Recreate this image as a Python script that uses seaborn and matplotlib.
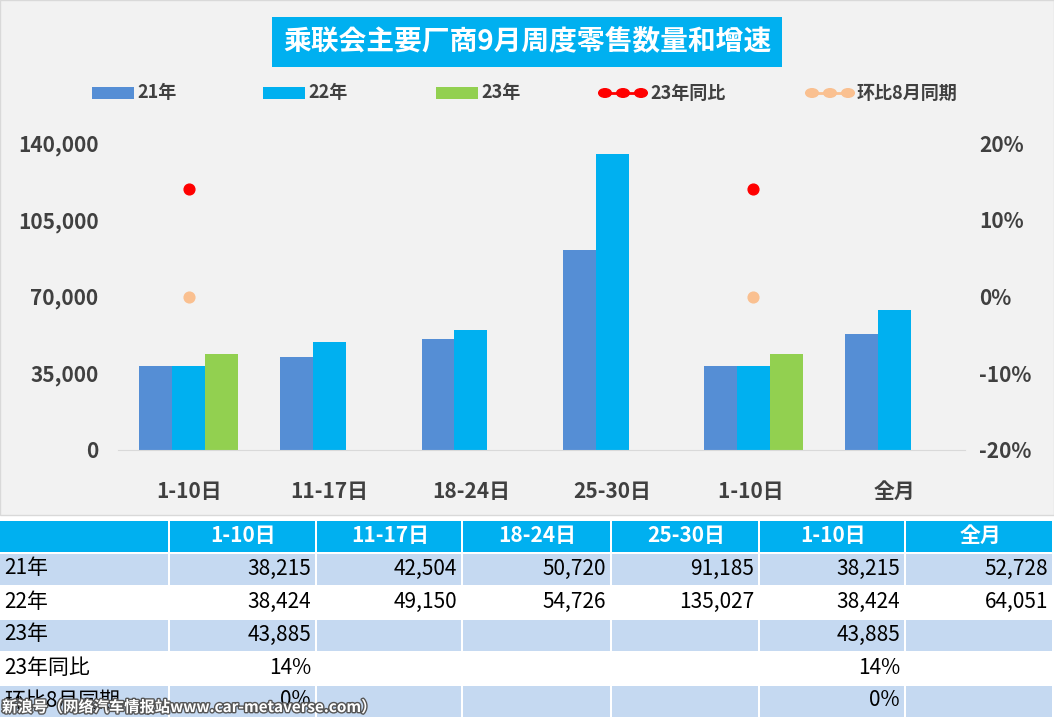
import numpy as np
import pandas as pd
import matplotlib
matplotlib.use("Agg")
import matplotlib.pyplot as plt
import seaborn as sns
from matplotlib.patches import Rectangle
import matplotlib.patheffects as pe

plt.rcParams["font.family"] = ["Noto Sans CJK JP", "Noto Sans CJK SC", "Noto Sans CJK TC", "DejaVu Sans"]

categories = ["1-10日", "11-17日", "18-24日", "25-30日", "1-10日 ", "全月"]
y21 = [38215, 42504, 50720, 91185, 38215, 52728]
y22 = [38424, 49150, 54726, 135027, 38424, 64051]
y23 = [43885, np.nan, np.nan, np.nan, 43885, np.nan]
yoy23 = [0.14, np.nan, np.nan, np.nan, 0.14, np.nan]
mom = [0.0, np.nan, np.nan, np.nan, 0.0, np.nan]
series = ["21年", "22年", "23年"]
colors = ["#558ed5", "#00b0f0", "#92d050"]

df = pd.DataFrame({"cat": categories * 3,
                   "series": sum([[s] * 6 for s in series], []),
                   "val": y21 + y22 + y23})

W, H = 1054, 717
fig = plt.figure(figsize=(W / 100, H / 100), dpi=100)
fig.patch.set_facecolor("white")
fig.add_artist(Rectangle((0, 1 - 515 / H), 1, 515 / H, transform=fig.transFigure,
                         facecolor="#f2f2f2", edgecolor="#d9d9d9", zorder=-5))

ax = fig.add_axes([118 / W, 1 - 450 / H, (965 - 118) / W, (450 - 143) / H])
ax.set_facecolor("none")
sns.barplot(data=df, x="cat", y="val", hue="series", palette=colors, width=0.7,
            order=categories, hue_order=series, ax=ax, legend=False, saturation=1)
ax.set_ylim(0, 140000)
ax.set_yticks([0, 35000, 70000, 105000, 140000])
ax.set_yticklabels(["0", "35,000", "70,000", "105,000", "140,000"])
ax.set_xlim(-0.5, 5.5)
ax.set_xlabel(""); ax.set_ylabel("")
for s in ax.spines.values():
    s.set_visible(False)
ax.spines["bottom"].set_visible(True)
ax.spines["bottom"].set_color("#d9d9d9")
ax.tick_params(axis="y", length=0, labelsize=15, colors="#404040", pad=14)
ax.tick_params(axis="x", length=0, labelsize=15, colors="#404040", pad=22)
for t in ax.get_xticklabels() + ax.get_yticklabels():
    t.set_fontweight("bold")

ax2 = ax.twinx()
xs = np.arange(6)
ax2.scatter(xs, yoy23, color="#ff0000", s=60, zorder=5)
ax2.scatter(xs, mom, color="#fac090", s=60, zorder=5)
ax2.set_ylim(-0.2, 0.2)
ax2.set_yticks([-0.2, -0.1, 0, 0.1, 0.2])
ax2.set_yticklabels(["-20%", "-10%", "0%", "10%", "20%"])
for s in ax2.spines.values():
    s.set_visible(False)
ax2.tick_params(length=0, labelsize=15, colors="#404040", pad=10)
for t in ax2.get_yticklabels():
    t.set_fontweight("bold")

fig.text(527 / W, 1 - 42 / H, "乘联会主要厂商9月周度零售数量和增速", ha="center", va="center",
         fontsize=20, fontweight="bold", color="white",
         bbox=dict(boxstyle="square,pad=0.4", facecolor="#00b0f0", edgecolor="none"))

ly = 1 - 93 / H
for x0, lab, c in [(92, "21年", colors[0]), (263, "22年", colors[1]), (436, "23年", colors[2])]:
    fig.add_artist(Rectangle((x0 / W, ly - 6 / H), 42 / W, 12 / H, transform=fig.transFigure,
                             facecolor=c, edgecolor="none"))
    fig.text((x0 + 45) / W, ly, lab, va="center", fontsize=13, fontweight="bold", color="#404040")
for x0, lab, c in [(605, "23年同比", "#ff0000"), (812, "环比8月同期", "#fac090")]:
    for k in range(3):
        fig.add_artist(plt.Circle(((x0 + k * 18) / W, ly), 0.006, transform=fig.transFigure,
                                  color=c))
    fig.add_artist(plt.Line2D([x0 / W, (x0 + 36) / W], [ly, ly], transform=fig.transFigure,
                              color=c, lw=2))
    fig.text((x0 + 45) / W, ly, lab, va="center", fontsize=13, fontweight="bold", color="#404040")

col_edges = [0, 170, 317, 463, 612, 760, 906, 1054]
row_top = 519
rh = 33
header = [""] + [c.strip() for c in categories]
rows = [["21年"] + [f"{v:,}" for v in y21],
        ["22年"] + [f"{v:,}" for v in y22],
        ["23年"] + ["" if np.isnan(v) else f"{int(v):,}" for v in y23],
        ["23年同比"] + ["" if np.isnan(v) else f"{v:.0%}" for v in yoy23],
        ["环比8月同期"] + ["" if np.isnan(v) else f"{v:.0%}" for v in mom]]
row_bg = ["#c5d9f1", "white", "#c5d9f1", "white", "#c5d9f1"]

def cell(ri, ci, txt, bg, color, bold, align):
    x0, x1 = col_edges[ci], col_edges[ci + 1]
    y0 = row_top + ri * rh
    fig.add_artist(Rectangle((x0 / W, 1 - (y0 + rh) / H), (x1 - x0 - 2) / W, (rh - 2) / H,
                             transform=fig.transFigure, facecolor=bg, edgecolor="none"))
    if align == "center":
        xt, ha = (x0 + x1) / 2, "center"
    elif align == "right":
        xt, ha = x1 - 6, "right"
    else:
        xt, ha = x0 + 4, "left"
    fig.text(xt / W, 1 - (y0 + rh / 2) / H, txt, ha=ha, va="center", fontsize=15,
             color=color, fontweight="bold" if bold else "normal")

for ci, t in enumerate(header):
    cell(0, ci, t, "#00b0f0", "white", True, "center")
for ri, r in enumerate(rows):
    for ci, t in enumerate(r):
        cell(ri + 1, ci, t, row_bg[ri], "black", False, "left" if ci == 0 else "right")

fig.text(2 / W, 1 - 707 / H, "新浪号（网络汽车情报站www.car-metaverse.com）", fontsize=11,
         color="white", fontweight="bold", va="center",
         path_effects=[pe.withStroke(linewidth=2, foreground="#555555")])

fig.savefig("out.png", dpi=100)
